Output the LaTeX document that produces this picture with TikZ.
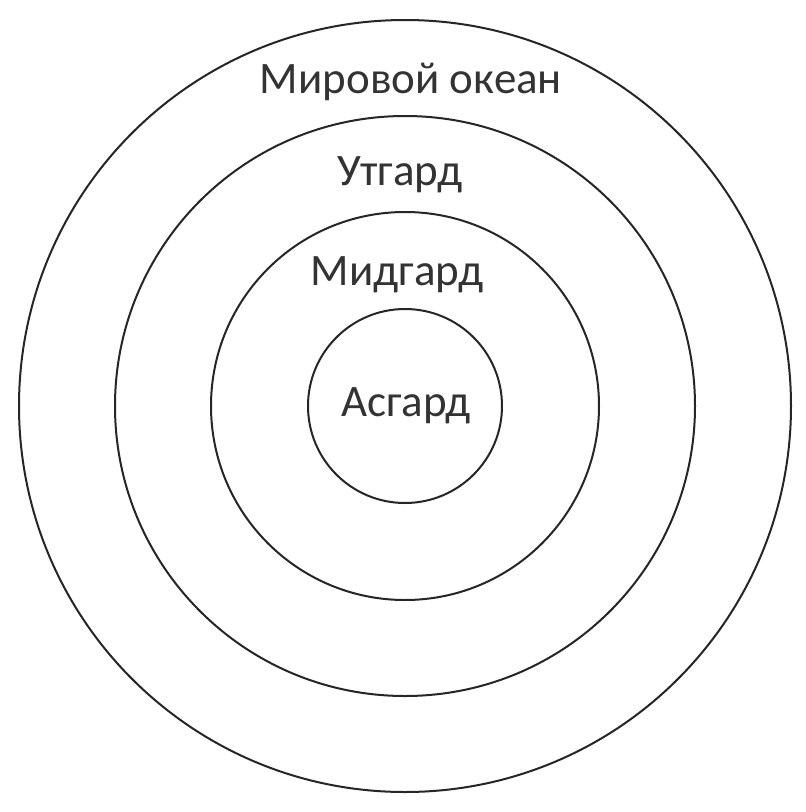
\documentclass[tikz,border=0pt]{standalone}
\usepackage{fontspec}
\setmainfont{Carlito}
\begin{document}
\begin{tikzpicture}[x=1pt,y=-1pt,
  ring/.style={circle,draw=black!85,line width=2pt,inner sep=0pt,minimum size=#1},
  lbl/.style={anchor=base,font=\fontsize{45}{50}\selectfont,text=black!80,inner sep=0pt}]
\useasboundingbox (0,0) rectangle (806,812);
\fill[white] (0,0) rectangle (806,812);
\node[ring=772pt] (ocean) at (405,406) {};
\node[ring=580pt] (utgard) at (405,406) {};
\node[ring=388pt] (midgard) at (405,406) {};
\node[ring=194pt] (asgard) at (405,406) {};
\node[lbl] (t1) at (411,93) {Мировой океан};
\node[lbl] (t2) at (400,185) {Утгард};
\node[lbl] (t3) at (397,285) {Мидгард};
\node[lbl] (t4) at (406,416) {Асгард};
\end{tikzpicture}
\end{document}
